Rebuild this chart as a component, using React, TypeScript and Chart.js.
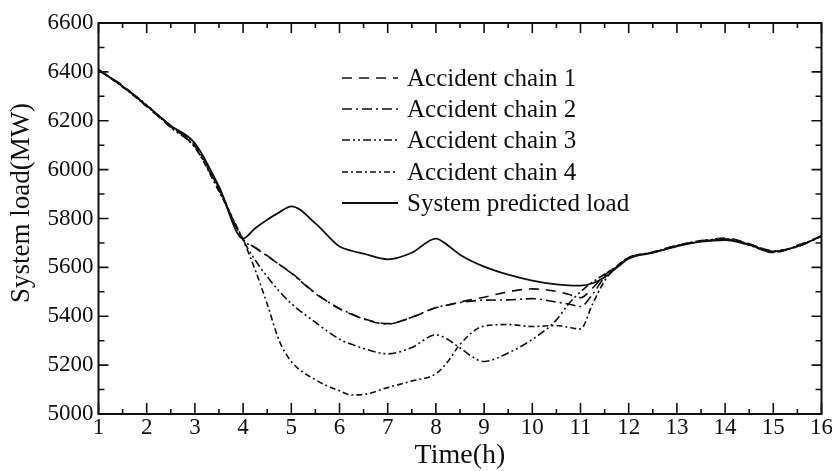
import React, { useEffect, useRef } from 'react';
import { Chart, registerables } from 'chart.js';
Chart.register(...registerables);

const times = [1, 1.5, 2, 2.5, 3, 3.5, 4, 4.25, 4.5, 4.75, 5, 5.5, 6, 6.25, 6.5, 7, 7.5, 8, 8.25, 8.5, 9, 9.5, 10, 10.5, 10.75, 11, 11.25, 11.5, 11.75, 12, 12.5, 13, 13.5, 14, 14.5, 15, 15.5, 16];

const chain1 = [6405, 6345, 6258, 6175, 6100, 5920, 5715, 5682, 5648, 5612, 5578, 5495, 5430, 5408, 5390, 5370, 5395, 5435, 5446, 5458, 5478, 5500, 5512, 5502, 5490, 5476, 5515, 5568, 5605, 5638, 5663, 5690, 5708, 5720, 5697, 5660, 5690, 5728];
const chain2 = [6407, 6342, 6262, 6178, 6095, 5925, 5714, 5680, 5646, 5612, 5576, 5493, 5432, 5410, 5389, 5368, 5396, 5436, 5446, 5456, 5466, 5467, 5472, 5458, 5450, 5440, 5490, 5560, 5602, 5640, 5660, 5688, 5706, 5716, 5694, 5668, 5684, 5728];
const chain3 = [6408, 6342, 6265, 6172, 6092, 5915, 5712, 5630, 5562, 5502, 5452, 5375, 5306, 5285, 5268, 5246, 5272, 5324, 5305, 5270, 5215, 5250, 5305, 5385, 5450, 5500, 5540, 5572, 5605, 5640, 5662, 5688, 5710, 5716, 5690, 5662, 5688, 5728];
const chain4 = [6408, 6338, 6260, 6178, 6090, 5910, 5712, 5590, 5450, 5300, 5215, 5140, 5095, 5078, 5080, 5108, 5135, 5165, 5215, 5285, 5360, 5366, 5358, 5362, 5355, 5348, 5450, 5545, 5600, 5640, 5660, 5690, 5706, 5714, 5696, 5664, 5686, 5728];
const predictedLoad = [6410, 6340, 6262, 6180, 6108, 5930, 5718, 5760, 5795, 5825, 5850, 5780, 5685, 5668, 5656, 5633, 5660, 5718, 5690, 5652, 5603, 5570, 5546, 5530, 5526, 5525, 5535, 5560, 5598, 5636, 5660, 5686, 5705, 5712, 5692, 5665, 5686, 5728];

const seriesLabels = ['Accident chain 1', 'Accident chain 2', 'Accident chain 3', 'Accident chain 4', 'System predicted load'];
const xTickValues = [1, 2, 3, 4, 5, 6, 7, 8, 9, 10, 11, 12, 13, 14, 15, 16];
const yTickValues = [5000, 5200, 5400, 5600, 5800, 6000, 6200, 6400, 6600];
const xTitle = 'Time(h)';
const yTitle = 'System load(MW)';

const FONT = '"Liberation Serif", "Times New Roman", serif';
const INK = '#111';

export default function App() {
  const ref = useRef<HTMLCanvasElement>(null);

  useEffect(() => {
    if (!ref.current) return;
    const seriesValues = [chain1, chain2, chain3, chain4, predictedLoad];
    const dashes = [[10, 7], [10, 4, 2, 4], [8, 3, 2, 3, 2, 3], [6, 3, 2, 3], []];
    const widths = [1.6, 1.6, 1.6, 1.6, 1.8];

    const framePlugin = {
      id: 'frame',
      afterDatasetsDraw(chart: any) {
        const { ctx, chartArea: a, scales } = chart;
        const xs = scales.x;
        const ys = scales.y;
        ctx.save();
        ctx.strokeStyle = INK;
        ctx.lineWidth = 2;
        ctx.setLineDash([]);
        ctx.strokeRect(a.left, a.top, a.right - a.left, a.bottom - a.top);
        ctx.lineWidth = 1.6;
        ctx.beginPath();
        for (let v = 1; v <= 16; v += 0.5) {
          const px = xs.getPixelForValue(v);
          const major = Number.isInteger(v);
          const lb = major ? 11 : 5;
          const lt = major ? 10 : 5;
          ctx.moveTo(px, a.bottom);
          ctx.lineTo(px, a.bottom - lb);
          ctx.moveTo(px, a.top);
          ctx.lineTo(px, a.top + lt);
        }
        for (let v = 5000; v <= 6600; v += 100) {
          const py = ys.getPixelForValue(v);
          const major = v % 200 === 0;
          const l = major ? 10 : 6;
          ctx.moveTo(a.left, py);
          ctx.lineTo(a.left + l, py);
          ctx.moveTo(a.right, py);
          ctx.lineTo(a.right - l, py);
        }
        ctx.stroke();

        // y title
        ctx.fillStyle = INK;
        ctx.font = `27px ${FONT}`;
        ctx.textAlign = 'center';
        ctx.textBaseline = 'middle';
        ctx.save();
        ctx.translate(22, 203);
        ctx.rotate(-Math.PI / 2);
        ctx.fillText(yTitle, 0, 0);
        ctx.restore();

        // legend
        const x0 = 342;
        const x1 = 398;
        const tx = 407;
        const rowY = [78, 109, 140, 172, 203];
        ctx.font = `25px ${FONT}`;
        ctx.textAlign = 'left';
        ctx.textBaseline = 'middle';
        chart.data.datasets.forEach((ds: any, i: number) => {
          const y = rowY[i];
          ctx.beginPath();
          ctx.setLineDash(ds.borderDash || []);
          ctx.lineWidth = ds.borderWidth;
          ctx.strokeStyle = INK;
          ctx.moveTo(x0, y);
          ctx.lineTo(x1, y);
          ctx.stroke();
          ctx.setLineDash([]);
          ctx.fillText(ds.label, tx, y + 1);
        });
        ctx.restore();
      },
    };

    const chart = new Chart(ref.current, {
      type: 'line',
      data: {
        datasets: seriesValues.map((vals, i) => ({
          label: seriesLabels[i],
          data: times.map((t, j) => ({ x: t, y: vals[j] })),
          borderColor: INK,
          borderWidth: widths[i],
          borderDash: dashes[i],
          pointRadius: 0,
          fill: false,
          cubicInterpolationMode: 'monotone' as const,
        })),
      },
      options: {
        responsive: false,
        animation: false,
        layout: { padding: { top: 23, right: 10.5, left: 0, bottom: 0 } },
        plugins: { legend: { display: false }, tooltip: { enabled: false } },
        scales: {
          x: {
            type: 'linear',
            min: 1,
            max: 16,
            afterBuildTicks: (s: any) => {
              s.ticks = xTickValues.map((v) => ({ value: v }));
            },
            afterFit: (s: any) => {
              s.height = 57;
              s.paddingLeft = 0;
              s.paddingRight = 0;
            },
            grid: { display: false, drawTicks: false },
            border: { display: false },
            ticks: {
              font: { family: FONT, size: 23 },
              color: INK,
              padding: 0,
              maxRotation: 0,
              autoSkip: false,
              callback: (v: any) => String(v),
            },
            title: {
              display: true,
              text: xTitle,
              font: { family: FONT, size: 28, lineHeight: 1 },
              color: INK,
              padding: { top: 0, bottom: 1 },
            },
          },
          y: {
            type: 'linear',
            min: 5000,
            max: 6600,
            afterBuildTicks: (s: any) => {
              s.ticks = yTickValues.map((v) => ({ value: v }));
            },
            afterFit: (s: any) => {
              s.width = 98.5;
              s.paddingTop = 0;
              s.paddingBottom = 0;
            },
            grid: { display: false, drawTicks: false },
            border: { display: false },
            ticks: {
              font: { family: FONT, size: 23 },
              color: INK,
              padding: 5,
              autoSkip: false,
              callback: (v: any) => String(v),
            },
          },
        },
      },
      plugins: [framePlugin],
    });
    return () => chart.destroy();
  }, []);

  return (
    <div style={{ position: 'absolute', left: 0, top: 0, width: 832, height: 471, background: '#fff' }}>
      <canvas ref={ref} width={832} height={471} style={{ width: 832, height: 471, display: 'block' }} />
    </div>
  );
}
